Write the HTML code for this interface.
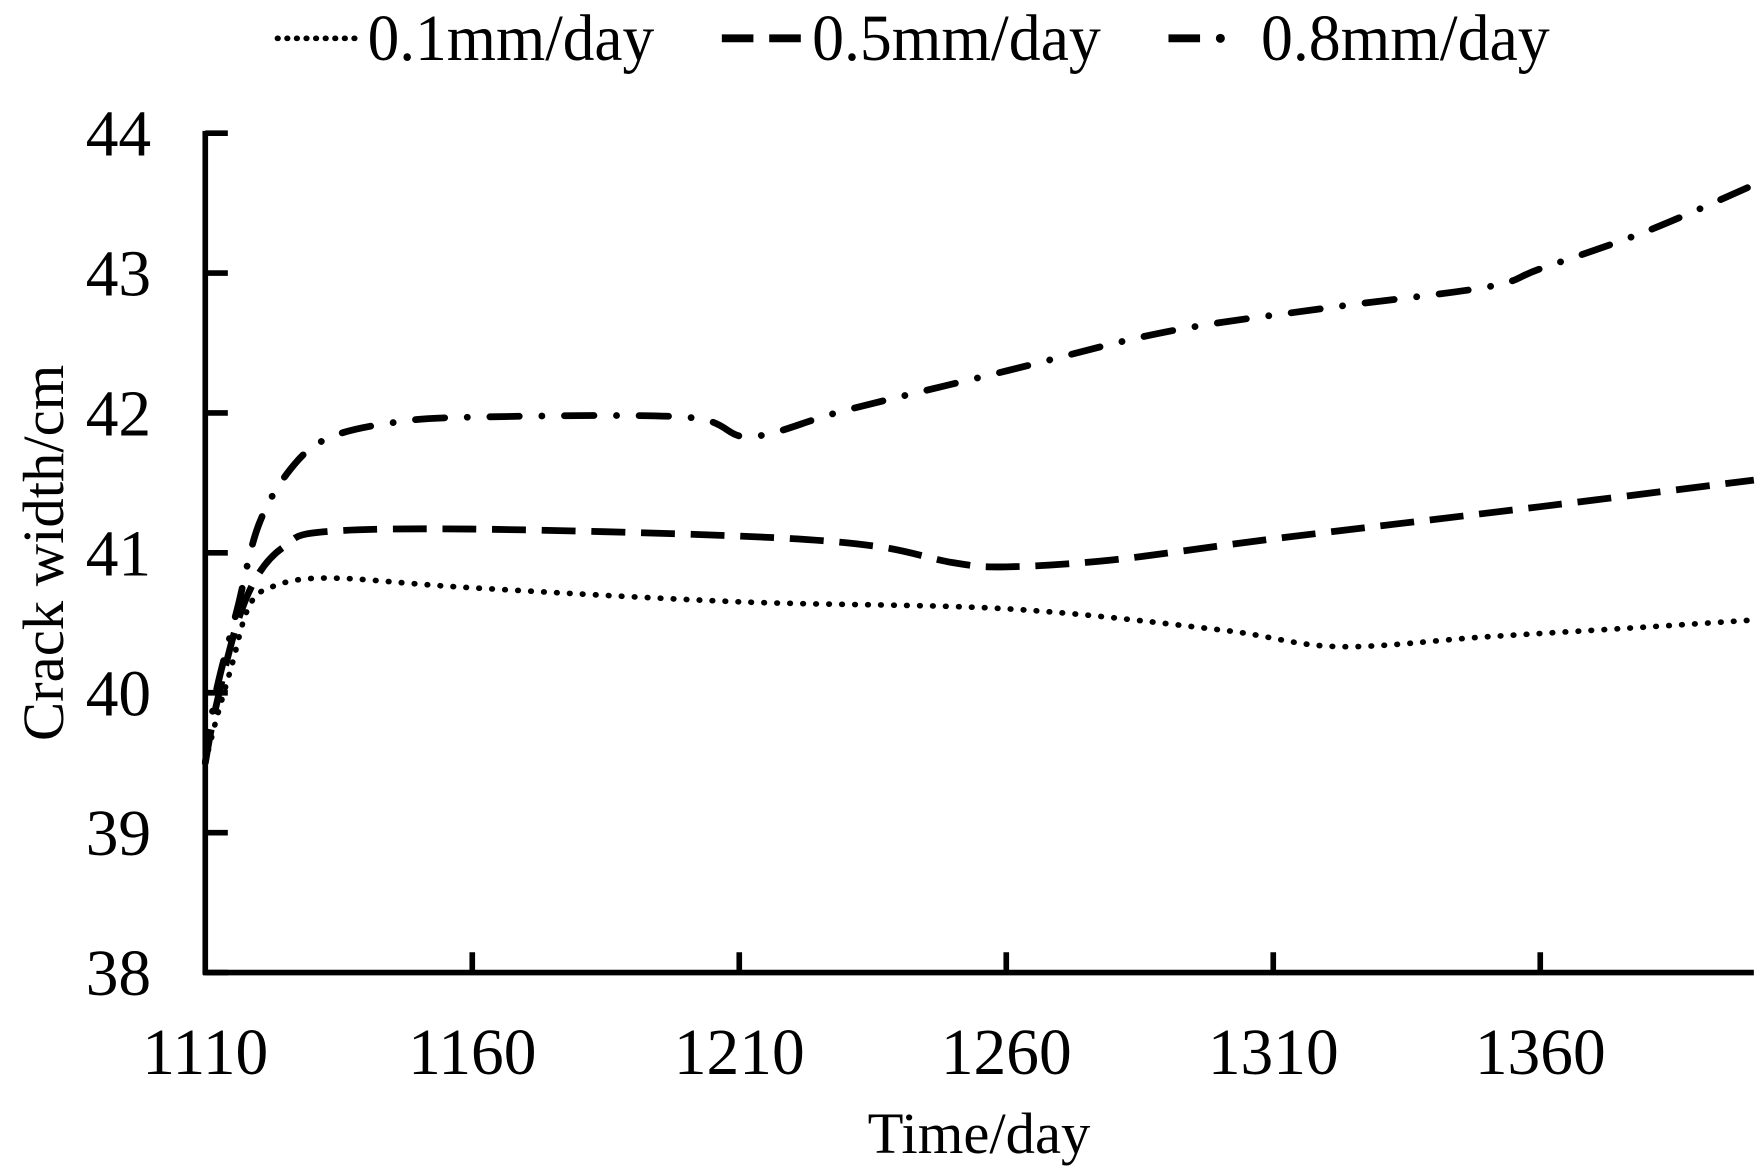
<!DOCTYPE html>
<html><head><meta charset="utf-8"><style>
html,body{margin:0;padding:0;background:#fff}
svg{display:block;font-family:"Liberation Serif",serif}
</style></head><body>
<svg id="chart" width="1764" height="1170" viewBox="0 0 1564 1037" preserveAspectRatio="none" xmlns="http://www.w3.org/2000/svg">
<g id="legend">
  <g>
    <line x1="246" y1="34" x2="322" y2="34" stroke="#000" stroke-width="5" stroke-dasharray="0.5 8" stroke-linecap="round"/>
    <text x="326" y="53" font-size="58" textLength="254" lengthAdjust="spacingAndGlyphs">0.1mm/day</text>
  </g>
  <g>
    <line x1="640" y1="34" x2="714" y2="34" stroke="#000" stroke-width="7" stroke-dasharray="28 14"/>
    <text x="720" y="53" font-size="58" textLength="256" lengthAdjust="spacingAndGlyphs">0.5mm/day</text>
  </g>
  <g>
    <line x1="1036" y1="34" x2="1064" y2="34" stroke="#000" stroke-width="7"/>
    <circle cx="1082" cy="34" r="4" fill="#000"/>
    <text x="1118" y="53" font-size="58" textLength="256" lengthAdjust="spacingAndGlyphs">0.8mm/day</text>
  </g>
</g>
<g id="axes"></g>
<g id="series"></g>
<text transform="translate(56,490) rotate(-90)" text-anchor="middle" font-size="52">Crack width/cm</text>
<text x="868" y="1022" text-anchor="middle" font-size="52">Time/day</text>
</svg>
<script>
const xTicks = [1110, 1160, 1210, 1260, 1310, 1360];
const yTicks = [38, 39, 40, 41, 42, 43, 44];
const days01 = [1110, 1112, 1115, 1118, 1122, 1133, 1160, 1210, 1260, 1300, 1322, 1350, 1380, 1400];
const vals01 = [39.5, 39.8, 40.2, 40.6, 40.75, 40.82, 40.75, 40.65, 40.6, 40.45, 40.33, 40.4, 40.47, 40.52];
const days05 = [1110, 1112, 1116, 1120, 1125, 1132, 1160, 1210, 1235, 1250, 1260, 1280, 1310, 1360, 1400];
const vals05 = [39.5, 39.9, 40.5, 40.85, 41.05, 41.15, 41.17, 41.12, 41.05, 40.93, 40.9, 40.95, 41.1, 41.33, 41.52];
const days08 = [1110, 1112, 1116, 1120, 1126, 1133, 1145, 1160, 1200, 1212, 1230, 1260, 1290, 1320, 1350, 1360, 1380, 1400];
const vals08 = [39.5, 40.0, 40.6, 41.2, 41.6, 41.82, 41.93, 41.97, 41.97, 41.83, 42.02, 42.3, 42.58, 42.75, 42.9, 43.03, 43.3, 43.63];

const NS = "http://www.w3.org/2000/svg";
const X0 = 182, X1 = 1555, Y0 = 862, Y1 = 118;
const xs = d => X0 + (d - 1110) / 290 * (X1 - X0);
const ys = v => Y0 - (v - 38) / 6 * (Y0 - Y1);
function mk(tag, attrs, parent) {
  const e = document.createElementNS(NS, tag);
  for (const k in attrs) e.setAttribute(k, attrs[k]);
  parent.appendChild(e);
  return e;
}
const axes = document.getElementById('axes');
const ya = mk('line', {x1: X0, y1: Y1 - 2, x2: X0, y2: Y0 + 2, stroke: '#000', 'stroke-width': 5}, axes);


const xa = mk('line', {x1: X0 - 2, y1: Y0, x2: X1, y2: Y0, stroke: '#000', 'stroke-width': 5}, axes);


yTicks.forEach(v => {
  const t = mk('line', {x1: X0, y1: ys(v), x2: X0 + 20, y2: ys(v), stroke: '#000', 'stroke-width': 5}, axes);
  
  
  const l = mk('text', {x: 134, y: ys(v) + 20, 'text-anchor': 'end', 'font-size': 58}, axes);
  
  
  l.textContent = v;
});
xTicks.forEach(d => {
  if (d !== 1110) {
    const t = mk('line', {x1: xs(d), y1: Y0, x2: xs(d), y2: Y0 - 18, stroke: '#000', 'stroke-width': 5}, axes);
    
    
  }
  const l = mk('text', {x: xs(d), y: 952, 'text-anchor': 'middle', 'font-size': 58}, axes);
  
  
  l.textContent = d;
});
function pathD(days, vals) {
  const p = days.map((d, i) => [xs(d), ys(vals[i])]);
  let s = 'M' + p[0][0] + ',' + p[0][1];
  for (let i = 0; i < p.length - 1; i++) {
    const a = p[Math.max(0, i - 1)], b = p[i], c = p[i + 1], e = p[Math.min(p.length - 1, i + 2)];
    const c1 = [b[0] + (c[0] - a[0]) / 6, b[1] + (c[1] - a[1]) / 6];
    const c2 = [c[0] - (e[0] - b[0]) / 6, c[1] - (e[1] - b[1]) / 6];
    s += ' C' + c1 + ' ' + c2 + ' ' + c;
  }
  return s;
}
const series = document.getElementById('series');
const s1 = mk('path', {d: pathD(days01, vals01), fill: 'none', stroke: '#000', 'stroke-width': 5, 'stroke-dasharray': '0.5 11', 'stroke-linecap': 'round'}, series);


const s2 = mk('path', {d: pathD(days05, vals05), fill: 'none', stroke: '#000', 'stroke-width': 6, 'stroke-dasharray': '30 14'}, series);


const s3 = mk('path', {d: pathD(days08, vals08), fill: 'none', stroke: '#000', 'stroke-width': 6, 'stroke-dasharray': '26 20 0.1 20', 'stroke-linecap': 'round'}, series);


</script>
</body></html>
